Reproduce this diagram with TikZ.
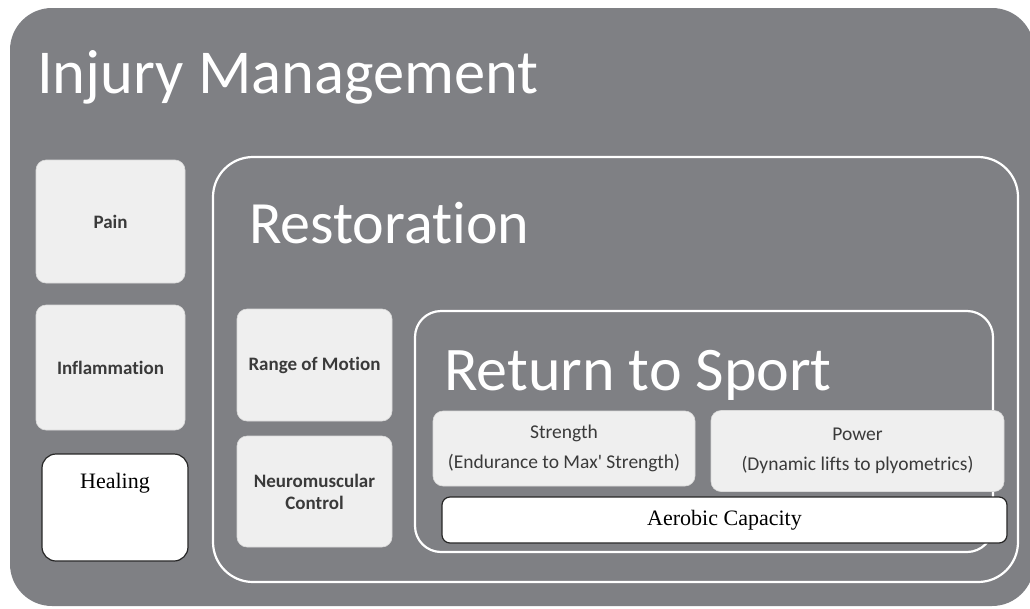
\documentclass[tikz,border=0pt]{standalone}
\usepackage{fontspec}
\setmainfont{Liberation Serif}
\newfontfamily\calib[Ligatures=NoCommon]{Carlito}
\definecolor{bggray}{HTML}{7F8084}
\definecolor{boxfill}{HTML}{EFEFEF}
\definecolor{txtdark}{HTML}{3A3A3A}
\tikzset{
  lightbox/.style={draw=boxfill!80!gray, line width=0.6pt, fill=boxfill, rounded corners=10pt, align=center, text=txtdark, font=\calib\fontsize{19}{22}\selectfont, inner sep=2pt},
  whitebox/.style={draw=black!85, line width=1.2pt, fill=white, rounded corners=14pt, font=\fontsize{22}{25}\selectfont},
  frame/.style={draw=white, line width=2.2pt},
  title/.style={text=white, anchor=base west, inner sep=0pt, font=\calib}
}
\begin{document}
\begin{tikzpicture}[x=1pt,y=-1pt]
\useasboundingbox (0,0) rectangle (1030,608);
% outer
\fill[bggray, rounded corners=42pt] (10,8) rectangle (1034,606);
\node[title, font=\calib\fontsize{62.5}{66}\selectfont] (tim) at (37,93) {Injury Management};
% left column
\node[lightbox, minimum width=149pt, minimum height=123pt] (pain) at (110.5,221.5) {\bfseries Pain};
\node[lightbox, minimum width=149pt, minimum height=125pt] (infl) at (110.5,367.5) {\bfseries Inflammation};
\node[whitebox, minimum width=146pt, minimum height=107pt] (heal) at (115,507.5) {};
\node[font=\fontsize{22}{25}\selectfont, anchor=base] (healt) at (heal.north |- 0,488) {Healing};
% restoration
\draw[frame, rounded corners=40pt] (213,157) rectangle (1018,582);
\node[title, font=\calib\fontsize{60}{64}\selectfont] (trest) at (249,243) {Restoration};
\node[lightbox, minimum width=155pt, minimum height=112pt] (rom) at (314.5,365) {\bfseries Range of Motion};
\node[lightbox, minimum width=155pt, minimum height=111pt] (nm) at (314.5,491.5) {\bfseries Neuromuscular\\\bfseries Control};
% return to sport
\draw[frame, rounded corners=26pt] (415,311) rectangle (993,552);
\node[title, font=\calib\fontsize{62}{66}\selectfont] (trts) at (444,390) {Return to Sport};
\node[lightbox, minimum width=262pt, minimum height=75pt, font=\calib\fontsize{19.5}{30}\selectfont] (str) at (564,448.5) {Strength\\(Endurance to Max' Strength)};
\node[lightbox, minimum width=293pt, minimum height=81pt, font=\calib\fontsize{19.5}{30}\selectfont] (pow) at (857.5,451) {Power\\(Dynamic lifts to plyometrics)};
\node[whitebox, rounded corners=8pt, minimum width=565pt, minimum height=46pt] (aer) at (724.5,520) {Aerobic Capacity};
\end{tikzpicture}
\end{document}
